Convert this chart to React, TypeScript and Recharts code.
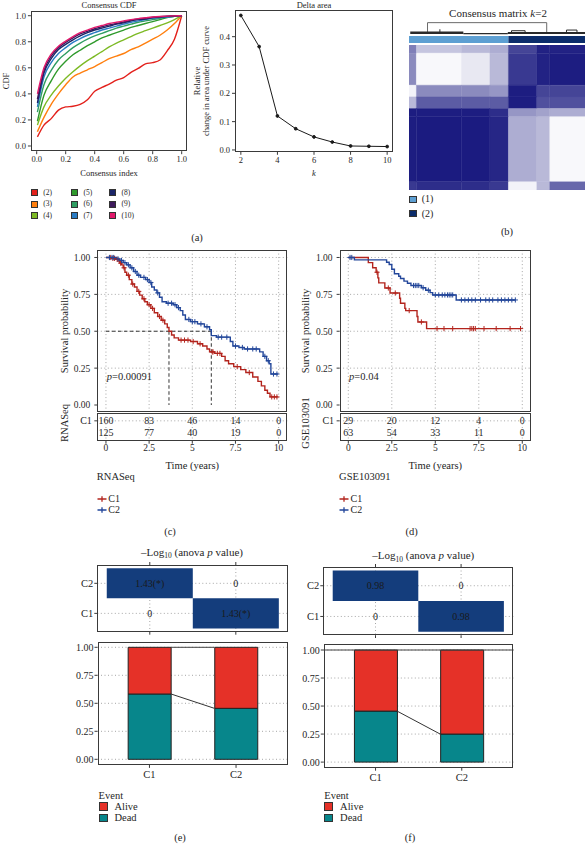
import React from 'react';
import {
  ComposedChart,
  LineChart,
  Line,
  Bar,
  Scatter,
  XAxis,
  YAxis,
  CartesianGrid,
  ReferenceArea,
  ReferenceLine,
} from 'recharts';

const FONT = '"Liberation Serif", "DejaVu Serif", serif';
const INK = '#262626';
const FRAME = '#3a3a3a';
const GRID = '#a6a6a6';

// ---------- (a) consensus CDF ----------
const cdfIndex = [0.005, 0.05, 0.1, 0.15, 0.2, 0.25, 0.3, 0.35, 0.4, 0.45, 0.5, 0.55, 0.6, 0.65, 0.7, 0.75, 0.8, 0.85, 0.9, 0.95, 1];
const cdfK2 = [0.07, 0.16, 0.21, 0.275, 0.3, 0.305, 0.32, 0.355, 0.42, 0.45, 0.475, 0.505, 0.525, 0.565, 0.595, 0.63, 0.64, 0.66, 0.73, 0.82, 1];
const cdfK3 = [0.11, 0.22, 0.32, 0.4, 0.47, 0.53, 0.56, 0.585, 0.61, 0.64, 0.67, 0.69, 0.71, 0.74, 0.76, 0.79, 0.82, 0.85, 0.89, 0.94, 1];
const cdfK4 = [0.16, 0.3, 0.39, 0.46, 0.52, 0.57, 0.615, 0.655, 0.69, 0.725, 0.76, 0.79, 0.815, 0.84, 0.865, 0.885, 0.905, 0.925, 0.945, 0.97, 1];
const cdfK5 = [0.19, 0.39, 0.5, 0.59, 0.65, 0.7, 0.735, 0.77, 0.8, 0.83, 0.85, 0.87, 0.89, 0.91, 0.925, 0.94, 0.955, 0.97, 0.985, 0.995, 1];
const cdfK6 = [0.26, 0.47, 0.58, 0.66, 0.71, 0.755, 0.79, 0.82, 0.845, 0.865, 0.885, 0.905, 0.92, 0.935, 0.95, 0.96, 0.97, 0.98, 0.99, 0.995, 1];
const cdfK7 = [0.3, 0.53, 0.64, 0.71, 0.755, 0.795, 0.825, 0.85, 0.87, 0.89, 0.905, 0.92, 0.935, 0.95, 0.96, 0.97, 0.98, 0.985, 0.99, 0.995, 1];
const cdfK8 = [0.33, 0.56, 0.67, 0.74, 0.78, 0.815, 0.845, 0.87, 0.89, 0.905, 0.92, 0.935, 0.945, 0.96, 0.97, 0.975, 0.985, 0.99, 0.995, 0.998, 1];
const cdfK9 = [0.36, 0.58, 0.69, 0.755, 0.795, 0.83, 0.86, 0.88, 0.9, 0.915, 0.93, 0.94, 0.952, 0.965, 0.975, 0.98, 0.988, 0.993, 0.996, 0.998, 1];
const cdfK10 = [0.4, 0.6, 0.705, 0.765, 0.805, 0.84, 0.87, 0.89, 0.91, 0.925, 0.94, 0.95, 0.96, 0.97, 0.978, 0.984, 0.99, 0.994, 0.997, 0.999, 1];
const cdfSeries = [cdfK2, cdfK3, cdfK4, cdfK5, cdfK6, cdfK7, cdfK8, cdfK9, cdfK10];
const cdfLabels = ['(2)', '(3)', '(4)', '(5)', '(6)', '(7)', '(8)', '(9)', '(10)'];
const cdfColors = ['#e3211c', '#ff7f0e', '#7dba25', '#2f9a2c', '#2f9d62', '#2a7cc4', '#1a2568', '#3e1a5c', '#e2196b'];

// ---------- (a) delta area ----------
const deltaK = [2, 3, 4, 5, 6, 7, 8, 9, 10];
const deltaArea = [0.475, 0.365, 0.12, 0.075, 0.046, 0.028, 0.014, 0.013, 0.012];

// ---------- (b) consensus matrix, blocks over ordered samples ----------
const matrixColBreaks = [0, 12, 85, 131, 161, 207, 228, 285];
const matrixRowBreaks = [0, 16, 79, 102, 125, 141, 269, 285];
const matrixValues = [
  [0.55, 0.25, 0.3, 0.35, 0.8, 0.95, 0.95],
  [0.5, 0.03, 0.1, 0.3, 0.85, 0.95, 0.97],
  [0.05, 0.5, 0.5, 0.45, 0.97, 0.8, 0.8],
  [0.3, 0.7, 0.7, 0.7, 0.97, 0.75, 0.75],
  [0.97, 0.97, 0.97, 0.9, 0.45, 0.4, 0.35],
  [0.97, 0.98, 0.98, 0.93, 0.35, 0.3, 0.03],
  [0.85, 0.9, 0.9, 0.85, 0.05, 0.3, 0.65],
];
const clusterBreaks = [0, 161, 285];
const clusterLabels = ['(1)', '(2)'];
const clusterColors = ['#5d9fd2', '#0c2d6b'];
const dendroMain: [number, number][] = [[30, 0.2], [30, 0.95], [223, 0.95], [223, 0.2]];
const dendroLeft: [number, number][] = [[2, 0.17], [88, 0.17]];
const dendroMid: [number, number][] = [[88, 0.1], [160, 0.1]];
const dendroRight: [number, number][] = [[160, 0.15], [285, 0.15]];
const dendroSubA: [number, number][] = [[166, 0.15], [166, 0.33], [188, 0.33], [188, 0.15]];
const dendroSubB: [number, number][] = [[255, 0.15], [255, 0.38], [272, 0.38], [272, 0.15]];
const dendroSpike: [number, number][] = [[50, 0.15], [50, 0.44]];

// ---------- (c)/(d) Kaplan-Meier ----------
type Pt = [number, number];
const rnaC1: Pt[] = [[0, 1], [0.35, 0.994], [0.55, 0.987], [0.7, 0.975], [0.8, 0.962], [0.9, 0.95], [1.0, 0.93], [1.1, 0.9], [1.2, 0.88], [1.35, 0.85], [1.5, 0.82], [1.65, 0.8], [1.8, 0.77], [1.95, 0.745], [2.1, 0.72], [2.25, 0.7], [2.4, 0.68], [2.6, 0.655], [2.8, 0.625], [3.0, 0.6], [3.2, 0.575], [3.4, 0.55], [3.55, 0.525], [3.65, 0.5], [3.8, 0.475], [3.95, 0.455], [4.2, 0.44], [4.9, 0.43], [5.3, 0.415], [5.6, 0.4], [5.85, 0.38], [6.0, 0.36], [6.3, 0.35], [6.7, 0.33], [6.9, 0.3], [7.1, 0.28], [7.4, 0.26], [7.8, 0.24], [8.1, 0.22], [8.5, 0.19], [8.8, 0.16], [9.0, 0.13], [9.2, 0.1], [9.35, 0.08], [9.5, 0.055], [9.95, 0.055]];
const rnaC2: Pt[] = [[0, 1], [0.6, 0.99], [0.8, 0.98], [1.0, 0.965], [1.2, 0.95], [1.4, 0.93], [1.6, 0.905], [1.8, 0.88], [2.0, 0.865], [2.3, 0.85], [2.5, 0.83], [2.65, 0.8], [2.8, 0.78], [2.95, 0.76], [3.1, 0.73], [3.25, 0.7], [3.5, 0.69], [3.9, 0.68], [4.1, 0.66], [4.3, 0.64], [4.45, 0.61], [4.6, 0.58], [4.9, 0.565], [5.3, 0.55], [5.7, 0.53], [6.0, 0.51], [6.1, 0.47], [6.4, 0.46], [7.2, 0.43], [7.35, 0.4], [7.7, 0.39], [8.0, 0.38], [8.9, 0.36], [9.1, 0.33], [9.3, 0.3], [9.45, 0.28], [9.55, 0.21], [9.95, 0.21]];
const rnaCensC1 = [0.25, 0.4, 0.5, 0.65, 0.85, 1.05, 1.3, 1.55, 1.9, 2.2, 2.5, 2.7, 3.1, 3.3, 4.35, 4.55, 4.75, 5.05, 5.45, 6.15, 6.2, 6.45, 6.6, 7.6, 8.3, 9.6, 9.75, 9.9];
const rnaCensC2 = [0.2, 0.35, 0.45, 0.7, 0.9, 1.1, 1.3, 1.5, 1.7, 1.9, 2.2, 2.4, 2.6, 3.0, 3.6, 3.8, 4.0, 4.2, 4.8, 5.0, 5.15, 5.5, 5.85, 6.5, 6.7, 7.0, 7.5, 7.9, 8.2, 8.5, 8.7, 9.2, 9.4, 9.7, 9.9];
const gseC1: Pt[] = [[0, 1], [1.15, 0.965], [1.4, 0.93], [1.6, 0.9], [1.7, 0.862], [1.75, 0.828], [2.1, 0.793], [2.4, 0.759], [2.95, 0.724], [3.0, 0.69], [3.25, 0.655], [3.3, 0.64], [3.95, 0.6], [4.0, 0.563], [4.5, 0.518], [9.9, 0.518]];
const gseC2: Pt[] = [[0, 1], [0.35, 0.984], [2.2, 0.968], [2.35, 0.952], [2.5, 0.92], [2.65, 0.89], [2.9, 0.873], [3.0, 0.857], [3.2, 0.84], [3.4, 0.825], [3.6, 0.81], [4.2, 0.795], [4.45, 0.778], [4.7, 0.762], [4.85, 0.746], [6.2, 0.712], [9.6, 0.712]];
const gseCensC1 = [1.65, 2.3, 2.7, 3.5, 4.2, 5.1, 5.5, 6.0, 7.0, 7.1, 7.2, 7.3, 7.8, 8.5, 9.3, 9.9];
const gseCensC2 = [0.1, 0.2, 3.75, 3.85, 3.95, 4.05, 4.3, 4.6, 5.0, 5.2, 5.4, 5.55, 5.7, 5.8, 5.9, 6.0, 6.5, 6.7, 6.9, 7.1, 7.3, 7.6, 7.9, 8.1, 8.3, 8.6, 8.8, 9.0, 9.2, 9.4, 9.6];
const riskTimes = [0, 2.5, 5, 7.5, 10];
const rnaRiskC1 = [160, 83, 46, 14, 0];
const rnaRiskC2 = [125, 77, 40, 19, 0];
const gseRiskC1 = [29, 20, 12, 4, 0];
const gseRiskC2 = [63, 54, 33, 11, 0];

// ---------- (e)/(f) anova heatmap and event bars ----------
const clusters = ['C1', 'C2'];
const anovaE = [[0, 1.43], [1.43, 0]]; // [row C1, row C2][col C1, col C2]
const anovaF = [[0, 0.98], [0.98, 0]];
const deadE = [0.583, 0.455];
const aliveE = [0.417, 0.545];
const deadF = [0.455, 0.25];
const aliveF = [0.545, 0.75];

const KM_RED = '#b3241d';
const KM_BLUE = '#22469a';
const NAVY = '#143d7c';
const ALIVE = '#e53128';
const DEAD = '#07868b';

const kmGridT = [0, 1.25, 2.5, 3.75, 5, 6.25, 7.5, 8.75, 10];
const kmGridS = [0, 0.125, 0.25, 0.375, 0.5, 0.625, 0.75, 0.875, 1];
const propTicks = [0, 0.25, 0.5, 0.75, 1];

const rowsOf = (pts: Pt[]) => pts.map(([t, s]) => ({ t, s }));
const survAt = (pts: Pt[], t: number) => pts.reduce((s, [ti, si]) => (ti <= t ? si : s), 1);
const medianOf = (pts: Pt[]) => {
  const hit = pts.find(([, s]) => s <= 0.5);
  return hit ? hit[0] : null;
};
const shade = (v: number) => {
  const c = (a: number) => Math.round(255 - v * (255 - a));
  return `rgb(${c(22)},${c(22)},${c(125)})`;
};

function T({ x, y, size = 10, anchor = 'middle', rot = 0, italic = false, children }: any) {
  const tx = anchor === 'middle' ? '-50%' : anchor === 'end' ? '-100%' : '0';
  return (
    <div
      style={{
        position: 'absolute',
        left: x,
        top: y,
        transform: `translate(${tx},-50%) rotate(${rot}deg)`,
        fontSize: size,
        lineHeight: 1,
        whiteSpace: 'nowrap',
        fontStyle: italic ? 'italic' : 'normal',
        color: INK,
      }}
    >
      {children}
    </div>
  );
}

function Frame({ x1, y1, x2, y2 }: any) {
  return (
    <div
      style={{
        position: 'absolute',
        left: x1,
        top: y1,
        width: x2 - x1,
        height: y2 - y1,
        border: `1px solid ${FRAME}`,
        boxSizing: 'border-box',
        pointerEvents: 'none',
      }}
    />
  );
}

function At({ x, y, children }: any) {
  return <div style={{ position: 'absolute', left: x, top: y }}>{children}</div>;
}

const smallTick = { fontSize: 8.5, fill: INK };
const frameLine = { stroke: FRAME };

function CdfPanel() {
  const rows = cdfIndex.map((c, i) => {
    const r: any = { c };
    cdfSeries.forEach((s, j) => (r['k' + j] = s[i]));
    return r;
  });
  return (
    <>
      <At x={0} y={0}>
        <LineChart width={200} height={190} data={rows} margin={{ top: 10.5, right: 12.5, bottom: 18.8, left: 0 }}>
          <XAxis type="number" dataKey="c" domain={[-0.04, 1.04]} ticks={[0, 0.2, 0.4, 0.6, 0.8, 1]} tickFormatter={(v) => v.toFixed(1)} height={20} tickSize={3} tickMargin={2} axisLine={false} tick={smallTick} tickLine={frameLine} allowDataOverflow />
          <YAxis type="number" domain={[-0.04, 1.04]} ticks={[0, 0.2, 0.4, 0.6, 0.8, 1]} tickFormatter={(v) => v.toFixed(1)} width={30.9} tickSize={3} tickMargin={2} axisLine={false} tick={smallTick} tickLine={frameLine} allowDataOverflow />
          {cdfSeries.map((_, j) => (
            <Line key={j} dataKey={'k' + j} type="monotone" stroke={cdfColors[j]} strokeWidth={1.4} dot={false} isAnimationActive={false} />
          ))}
        </LineChart>
      </At>
      <Frame x1={30.9} y1={10.5} x2={187.5} y2={151.2} />
      <T x={109} y={5} size={8.5}>Consensus CDF</T>
      <T x={6} y={81} size={8.5} rot={-90}>CDF</T>
      <T x={109} y={173} size={8.5}>Consensus index</T>
      {cdfLabels.map((lab, i) => {
        const col = Math.floor(i / 3);
        const row = i % 3;
        const lx = [30.7, 71, 109][col];
        const ly = [192.7, 204.2, 215.8][row];
        return (
          <React.Fragment key={lab}>
            <div style={{ position: 'absolute', left: lx, top: ly - 3.5, width: 7, height: 7, background: cdfColors[i], border: '1px solid #333', boxSizing: 'border-box' }} />
            <T x={lx + 12.6} y={ly} size={7.5} anchor="start">{lab}</T>
          </React.Fragment>
        );
      })}
    </>
  );
}

function DeltaPanel() {
  const rows = deltaK.map((k, i) => ({ k, d: deltaArea[i] }));
  return (
    <>
      <At x={195} y={0}>
        <LineChart width={205} height={190} data={rows} margin={{ top: 10.2, right: 7, bottom: 18.2, left: 0 }}>
          <XAxis type="number" dataKey="k" domain={[1.68, 10.32]} ticks={[2, 4, 6, 8, 10]} height={20} tickSize={3} tickMargin={2} axisLine={false} tick={smallTick} tickLine={frameLine} allowDataOverflow />
          <YAxis type="number" domain={[-0.0065, 0.4935]} ticks={[0, 0.1, 0.2, 0.3, 0.4]} tickFormatter={(v) => v.toFixed(1)} width={40} tickSize={3} tickMargin={2} axisLine={false} tick={smallTick} tickLine={frameLine} allowDataOverflow />
          <Line dataKey="d" type="linear" stroke="#1a1a1a" strokeWidth={1} dot={{ r: 1.4, fill: '#1a1a1a', stroke: '#1a1a1a' }} isAnimationActive={false} />
        </LineChart>
      </At>
      <Frame x1={235} y1={10.2} x2={393} y2={151.8} />
      <T x={314} y={5} size={8.5}>Delta area</T>
      <T x={197} y={81} size={8.5} rot={-90}>Relative</T>
      <T x={206} y={81} size={8.5} rot={-90}>change in area under CDF curve</T>
      <T x={314} y={173} size={8.5} italic>k</T>
    </>
  );
}

function MatrixPanel() {
  const cells = matrixValues.flatMap((row, i) =>
    row.map((v, j) => ({
      x1: matrixColBreaks[j],
      x2: matrixColBreaks[j + 1],
      y1: matrixRowBreaks[i],
      y2: matrixRowBreaks[i + 1],
      v,
    })),
  );
  const centers = cells.map((c) => ({ x: (c.x1 + c.x2) / 2, y: (c.y1 + c.y2) / 2 }));
  const bar = clusterLabels.map((_, i) => ({ x: (clusterBreaks[i] + clusterBreaks[i + 1]) / 2, y: 0.5 }));
  const links = [dendroMain, dendroLeft, dendroMid, dendroRight, dendroSubA, dendroSubB, dendroSpike];
  const widths = [1, 2.6, 1.2, 2, 1, 1, 1];
  return (
    <>
      <At x={409} y={22}>
        <LineChart width={176} height={13} margin={{ top: 0, right: 0, bottom: 0, left: 0 }}>
          <XAxis type="number" dataKey="x" domain={[0, 285]} hide allowDataOverflow />
          <YAxis type="number" domain={[0, 1]} hide allowDataOverflow />
          {links.map((pts, i) => (
            <Line key={i} data={pts.map(([x, h]) => ({ x, h }))} dataKey="h" type="linear" stroke={i === 0 ? '#6a6a6a' : '#2a2a2a'} strokeWidth={widths[i]} dot={false} isAnimationActive={false} />
          ))}
        </LineChart>
      </At>
      <At x={409} y={36}>
        <ComposedChart width={176} height={7} data={bar} margin={{ top: 0, right: 0, bottom: 0, left: 0 }}>
          <XAxis type="number" dataKey="x" domain={[0, 285]} hide />
          <YAxis type="number" domain={[0, 1]} hide />
          {clusterLabels.map((lab, i) => (
            <ReferenceArea key={lab} x1={clusterBreaks[i]} x2={clusterBreaks[i + 1]} y1={0} y2={1} fill={clusterColors[i]} fillOpacity={1} stroke="none" ifOverflow="visible" />
          ))}
          <Scatter dataKey="y" shape={() => <g />} isAnimationActive={false} />
        </ComposedChart>
      </At>
      <At x={409} y={45}>
        <ComposedChart width={176} height={145} data={centers} margin={{ top: 0, right: 0, bottom: 0, left: 0 }}>
          <XAxis type="number" dataKey="x" domain={[0, 285]} hide />
          <YAxis type="number" domain={[0, 285]} reversed hide />
          {cells.map((c, k) => (
            <ReferenceArea key={k} x1={c.x1} x2={c.x2} y1={c.y1} y2={c.y2} fill={shade(c.v)} fillOpacity={1} stroke={shade(c.v)} strokeWidth={0.4} ifOverflow="visible" />
          ))}
          <Scatter dataKey="y" shape={() => <g />} isAnimationActive={false} />
        </ComposedChart>
      </At>
      <T x={498} y={13} size={11}>
        Consensus matrix <i>k</i>=2
      </T>
      {clusterLabels.map((lab, i) => (
        <React.Fragment key={lab}>
          <div style={{ position: 'absolute', left: 409.3, top: [199.3, 213.7][i] - 3.7, width: 7.4, height: 7.4, background: clusterColors[i], border: '1px solid #333', boxSizing: 'border-box' }} />
          <T x={421.7} y={[199.3, 213.7][i]} size={10} anchor="start">{lab}</T>
        </React.Fragment>
      ))}
    </>
  );
}

const crossShape = (color: string) => (p: any) =>
  p.cx == null ? <g /> : <path d={`M${p.cx - 2.6},${p.cy}h5.2M${p.cx},${p.cy - 2.6}v5.2`} stroke={color} strokeWidth={1} fill="none" />;

const riskText = (p: any) =>
  p.cx == null ? <g /> : (
    <text x={p.cx} y={p.cy} dy="0.35em" textAnchor="middle" fontSize={10} fill={INK}>
      {p.payload.n}
    </text>
  );

function KmPanel({ x, w, yW, mr, c1, c2, cens1, cens2, risk1, risk2, name, pText, labelX }: any) {
  const meds = [medianOf(c1), medianOf(c2)].filter((m) => m != null) as number[];
  const riskRows = riskTimes.flatMap((t, i) => [
    { t, row: 2, n: risk1[i] },
    { t, row: 1, n: risk2[i] },
  ]);
  const tick = { fontSize: 9.5, fill: INK };
  const px1 = x + yW;
  const px2 = x + w - mr;
  const cx = (px1 + px2) / 2;
  return (
    <>
      <At x={x} y={240}>
        <ComposedChart width={w} height={172.4} margin={{ top: 10.1, right: mr, bottom: 0, left: 0 }}>
          <CartesianGrid stroke={GRID} strokeDasharray="1 2.5" verticalValues={kmGridT} horizontalValues={kmGridS} />
          <XAxis type="number" dataKey="t" domain={[-0.5, 10.5]} hide allowDataOverflow />
          <YAxis type="number" domain={[-0.05, 1.05]} ticks={propTicks} tickFormatter={(v) => v.toFixed(2)} width={yW} tickSize={3} tickMargin={4} axisLine={false} tick={tick} tickLine={frameLine} allowDataOverflow />
          {meds.length > 0 && (
            <ReferenceLine segment={[{ x: 0, y: 0.5 }, { x: Math.max(...meds), y: 0.5 }]} stroke="#333" strokeDasharray="3.5 2.5" />
          )}
          {meds.map((m) => (
            <ReferenceLine key={m} segment={[{ x: m, y: 0.5 }, { x: m, y: 0 }]} stroke="#333" strokeDasharray="3.5 2.5" />
          ))}
          <Line data={rowsOf(c1)} dataKey="s" type="stepAfter" stroke={KM_RED} strokeWidth={1.4} dot={false} isAnimationActive={false} />
          <Line data={rowsOf(c2)} dataKey="s" type="stepAfter" stroke={KM_BLUE} strokeWidth={1.4} dot={false} isAnimationActive={false} />
          <Scatter data={cens1.map((t: number) => ({ t, s: survAt(c1, t) }))} dataKey="s" shape={crossShape(KM_RED)} isAnimationActive={false} />
          <Scatter data={cens2.map((t: number) => ({ t, s: survAt(c2, t) }))} dataKey="s" shape={crossShape(KM_BLUE)} isAnimationActive={false} />
        </ComposedChart>
      </At>
      <Frame x1={px1} y1={250.1} x2={px2} y2={412.4} />
      <At x={x} y={413.3}>
        <ComposedChart width={w} height={44.7} margin={{ top: 0, right: mr, bottom: 0, left: 0 }}>
          <CartesianGrid stroke={GRID} strokeDasharray="1 2.5" verticalValues={kmGridT} horizontalValues={[1, 2]} />
          <XAxis type="number" dataKey="t" domain={[-0.5, 10.5]} ticks={riskTimes} tickFormatter={(v) => String(v)} height={17} tickSize={3} tickMargin={1} axisLine={false} tick={tick} tickLine={frameLine} allowDataOverflow />
          <YAxis type="number" domain={[0.3, 2.67]} ticks={[1, 2]} tickFormatter={(v) => (v === 2 ? 'C1' : 'C2')} width={yW} tickSize={3} tickMargin={2.5} axisLine={false} tick={{ fontSize: 10, fill: INK }} tickLine={frameLine} allowDataOverflow />
          <Scatter data={riskRows} dataKey="row" shape={riskText} isAnimationActive={false} />
        </ComposedChart>
      </At>
      <Frame x1={px1} y1={413.3} x2={px2} y2={441} />
      <T x={labelX} y={331} size={10.5} rot={-90}>Survival probability</T>
      <T x={labelX} y={423} size={10.5} rot={-90}>{name}</T>
      <T x={cx} y={466} size={10.5}>Time (years)</T>
      <T x={px1 + 9.5} y={376.7} size={10.5} anchor="start">
        <i>p</i>={pText}
      </T>
      <T x={px1 - 0.5} y={477} size={10.5} anchor="start">{name}</T>
      {clusters.map((c, i) => {
        const col = i === 0 ? KM_RED : KM_BLUE;
        const ly = [498.8, 510][i];
        return (
          <React.Fragment key={c}>
            <svg style={{ position: 'absolute', left: px1 - 0.5, top: ly - 4 }} width={10} height={8}>
              <path d="M0.5,4H9.5M5,1.2V6.8" stroke={col} strokeWidth={1.3} fill="none" />
            </svg>
            <T x={px1 + 11} y={ly} size={10} anchor="start">{c}</T>
          </React.Fragment>
        );
      })}
    </>
  );
}

const heatLabel = (p: any) =>
  p.cx == null ? <g /> : (
    <text x={p.cx} y={p.cy} dy="0.35em" textAnchor="middle" fontSize={10} fill="#1a1a1a">
      {p.payload.v > 0 ? p.payload.v.toFixed(2) + (p.payload.v >= -Math.log10(0.05) ? '(*)' : '') : '0'}
    </text>
  );

function AnovaHeat({ x, top, w, h, yW, mr, values }: any) {
  const cells = values.flatMap((row: number[], ri: number) => row.map((v, ci) => ({ x: ci + 1, y: ri + 1, v })));
  const axisTick = { fontSize: 10.5, fill: INK };
  return (
    <At x={x} y={top}>
      <ComposedChart width={w} height={h} data={cells} margin={{ top: 2, right: mr, bottom: 0, left: 0 }}>
        <XAxis xAxisId="top" orientation="top" type="number" dataKey="x" domain={[0.39, 2.61]} ticks={[1, 2]} tickFormatter={() => ''} height={3} tickSize={3} axisLine={false} tickLine={frameLine} allowDataOverflow />
        <XAxis xAxisId="bot" orientation="bottom" type="number" dataKey="x" domain={[0.39, 2.61]} ticks={[1, 2]} tickFormatter={() => ''} height={3.3} tickSize={3} axisLine={false} tickLine={frameLine} allowDataOverflow />
        <YAxis type="number" domain={[0.39, 2.61]} ticks={[1, 2]} tickFormatter={(v) => clusters[v - 1]} width={yW} tickSize={3} tickMargin={1} axisLine={false} tick={axisTick} tickLine={frameLine} allowDataOverflow />
        <CartesianGrid xAxisId="bot" stroke={GRID} strokeDasharray="1 2.5" verticalValues={[1, 2]} horizontalValues={[1, 2]} />
        {cells.map((c: any, k: number) => (
          <ReferenceArea key={k} xAxisId="bot" x1={c.x - 0.5} x2={c.x + 0.5} y1={c.y - 0.5} y2={c.y + 0.5} fill={c.v > 0 ? NAVY : '#ffffff'} fillOpacity={c.v > 0 ? 1 : 0} stroke="none" ifOverflow="visible" />
        ))}
        <Scatter xAxisId="bot" dataKey="y" shape={heatLabel} isAnimationActive={false} />
      </ComposedChart>
    </At>
  );
}

function EventBars({ x, top, w, h, yW, mt, mr, mb, dead, alive, fullTop }: any) {
  const rows = clusters.map((c, i) => ({ x: i + 1, dead: dead[i], alive: alive[i] }));
  const half = 0.25;
  return (
    <At x={x} y={top}>
      <ComposedChart width={w} height={h} data={rows} margin={{ top: mt, right: mr, bottom: mb, left: 0 }}>
        <CartesianGrid stroke={GRID} strokeDasharray="1 2.5" vertical={false} horizontalValues={kmGridS} />
        <XAxis type="number" dataKey="x" domain={[0.4, 2.6]} ticks={[1, 2]} tickFormatter={(v) => clusters[v - 1]} height={18} tickSize={3} tickMargin={3} axisLine={false} tick={{ fontSize: 10.5, fill: INK }} tickLine={frameLine} allowDataOverflow />
        <YAxis type="number" domain={[-0.05, 1.05]} ticks={propTicks} tickFormatter={(v) => v.toFixed(2)} width={yW} tickSize={3} tickMargin={1} axisLine={false} tick={{ fontSize: 10, fill: INK }} tickLine={frameLine} allowDataOverflow />
        <Bar dataKey="dead" stackId="s" fill={DEAD} stroke="#222" strokeWidth={1} barSize={43} isAnimationActive={false} />
        <Bar dataKey="alive" stackId="s" fill={ALIVE} stroke="#222" strokeWidth={1} barSize={43} isAnimationActive={false} />
        <ReferenceLine segment={[{ x: 1 + half, y: dead[0] }, { x: 2 - half, y: dead[1] }]} stroke="#333" strokeWidth={1} />
        {fullTop ? (
          <ReferenceLine y={1} stroke="#444" strokeWidth={1} />
        ) : (
          <ReferenceLine segment={[{ x: 1 + half, y: 1 }, { x: 2 - half, y: 1 }]} stroke="#444" strokeWidth={1} />
        )}
      </ComposedChart>
    </At>
  );
}

function EventLegend({ x, y }: any) {
  return (
    <>
      <T x={x} y={y} size={10.5} anchor="start">Event</T>
      {['Alive', 'Dead'].map((lab, i) => {
        const ly = y + 10.7 + i * 11.3;
        return (
          <React.Fragment key={lab}>
            <div style={{ position: 'absolute', left: x, top: ly - 4.3, width: 9, height: 8.6, background: i === 0 ? ALIVE : DEAD, border: '1px solid #333', boxSizing: 'border-box' }} />
            <T x={x + 15.8} y={ly} size={10.5} anchor="start">{lab}</T>
          </React.Fragment>
        );
      })}
    </>
  );
}

function AnovaTitle({ x, y }: any) {
  return (
    <T x={x} y={y} size={11}>
      –Log<span style={{ fontSize: 7.5, position: 'relative', top: 2.5 }}>10</span> (anova <i>p</i> value)
    </T>
  );
}

export default function App() {
  return (
    <div
      style={{
        position: 'absolute',
        left: 0,
        top: 0,
        width: 588,
        height: 844,
        background: '#fff',
        fontFamily: FONT,
        color: INK,
        overflow: 'hidden',
      }}
    >
      <CdfPanel />
      <DeltaPanel />
      <MatrixPanel />
      <T x={197} y={238} size={10.5}>(a)</T>
      <T x={507} y={232} size={10.5}>(b)</T>

      <KmPanel x={52} w={240} yW={45.3} mr={4.7} c1={rnaC1} c2={rnaC2} cens1={rnaCensC1} cens2={rnaCensC2} risk1={rnaRiskC1} risk2={rnaRiskC2} name="RNASeq" pText="0.00091" labelX={65} />
      <KmPanel x={294} w={242} yW={45.6} mr={5} c1={gseC1} c2={gseC2} cens1={gseCensC1} cens2={gseCensC2} risk1={gseRiskC1} risk2={gseRiskC2} name="GSE103091" pText="0.04" labelX={306} />
      <T x={170} y={531.7} size={10.5}>(c)</T>
      <T x={411.7} y={531.7} size={10.5}>(d)</T>

      <AnovaTitle x={192} y={551.7} />
      <AnovaTitle x={423.3} y={555} />
      <AnovaHeat x={57} top={560} w={236} h={75} yW={40.3} mr={4.7} values={anovaE} />
      <Frame x1={97.3} y1={565} x2={288.3} y2={631.7} />
      <AnovaHeat x={283} top={561.7} w={236} h={76.5} yW={40.3} mr={5.7} values={anovaF} />
      <Frame x1={323.3} y1={566.7} x2={513.3} y2={635} />

      <EventBars x={57} top={636} w={236} h={150} yW={40.5} mt={5.7} mr={5} mb={3.1} dead={deadE} alive={aliveE} fullTop={false} />
      <Frame x1={97.5} y1={641.7} x2={288} y2={764.9} />
      <EventBars x={283} top={638} w={236} h={150} yW={40.8} mt={6.4} mr={5.5} mb={2.3} dead={deadF} alive={aliveF} fullTop />
      <Frame x1={323.8} y1={644.4} x2={513.5} y2={767.7} />

      <EventLegend x={98.6} y={796} />
      <EventLegend x={324.3} y={796} />
      <T x={180} y={838} size={10.5}>(e)</T>
      <T x={410} y={838} size={10.5}>(f)</T>
    </div>
  );
}
